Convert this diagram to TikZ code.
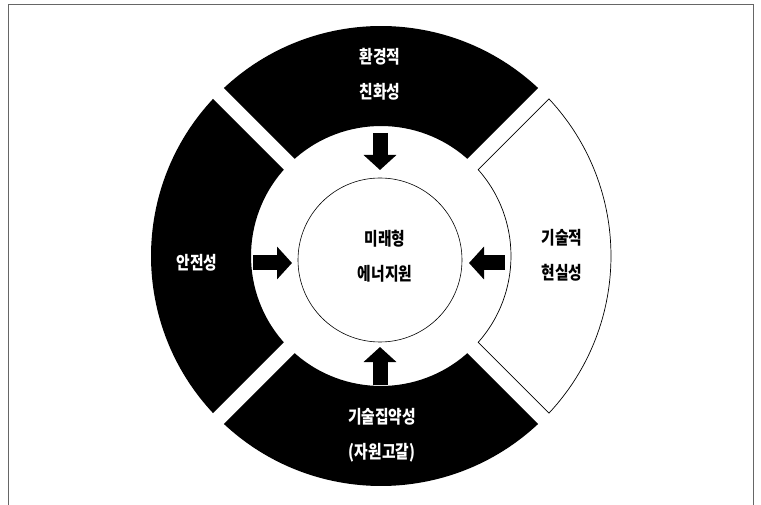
\documentclass[tikz,border=0pt]{standalone}
\usepackage{fontspec}
\newfontfamily\kr[FakeStretch=0.82]{Noto Sans CJK KR}
\usetikzlibrary{arrows.meta}
\begin{document}
\begin{tikzpicture}[x=1pt,y=1pt,
  seg/.style={fill=black},
  wseg/.style={fill=white,draw=black,line width=0.7pt},
  lbl/.style={font=\kr\bfseries\fontsize{18}{35}\selectfont, align=center, inner sep=0pt},
  blk/.style={line width=15pt, -{Triangle[width=32pt,length=15pt]}},
]
\useasboundingbox (0,0) rectangle (761,-505);
\draw[black!60, line width=1pt] (8,-505) -- (8,-5) -- (753,-5) -- (753,-505);
\coordinate (C) at (381,-256);
\begin{scope}[shift={(C)}]
  % top
  \fill[seg] (46.9:230pt) arc[start angle=46.9,end angle=133.1,radius=230pt]
    -- (131.6:130pt) arc[start angle=131.6,end angle=48.4,radius=130pt] -- cycle;
  % left
  \fill[seg] (136.9:230pt) arc[start angle=136.9,end angle=223.1,radius=230pt]
    -- (221.6:130pt) arc[start angle=221.6,end angle=138.4,radius=130pt] -- cycle;
  % bottom
  \fill[seg] (226.9:230pt) arc[start angle=226.9,end angle=313.1,radius=230pt]
    -- (311.6:130pt) arc[start angle=311.6,end angle=228.4,radius=130pt] -- cycle;
  % right (white)
  \draw[wseg] (-43.1:230pt) arc[start angle=-43.1,end angle=43.1,radius=230pt]
    -- (41.6:130pt) arc[start angle=41.6,end angle=-41.6,radius=130pt] -- cycle;
\end{scope}
\node[circle, draw, line width=0.6pt, minimum size=164pt, inner sep=0pt] (core) at (380,-260) {};
\node[lbl] (coretext) at (385,-256) {미래형\\에너지원};
\node[lbl, text=white] (env) at (380,-74.5) {환경적\\친화성};
\node[lbl, text=white] (safe) at (197,-263) {안전성};
\node[lbl] (tech) at (562,-255) {기술적\\현실성};
\node[lbl, text=white] (intens) at (382,-435) {기술집약성\\(자원고갈)};
\coordinate (tA) at (380,-133); \coordinate (tB) at (380,-170);
\coordinate (lA) at (253,-263); \coordinate (lB) at (292,-263);
\coordinate (rA) at (505,-263); \coordinate (rB) at (469,-263);
\coordinate (bA) at (380,-385); \coordinate (bB) at (380,-347);
\draw[blk] (tA) -- (tB);
\draw[blk] (lA) -- (lB);
\draw[blk] (rA) -- (rB);
\draw[blk] (bA) -- (bB);
\end{tikzpicture}
\end{document}
